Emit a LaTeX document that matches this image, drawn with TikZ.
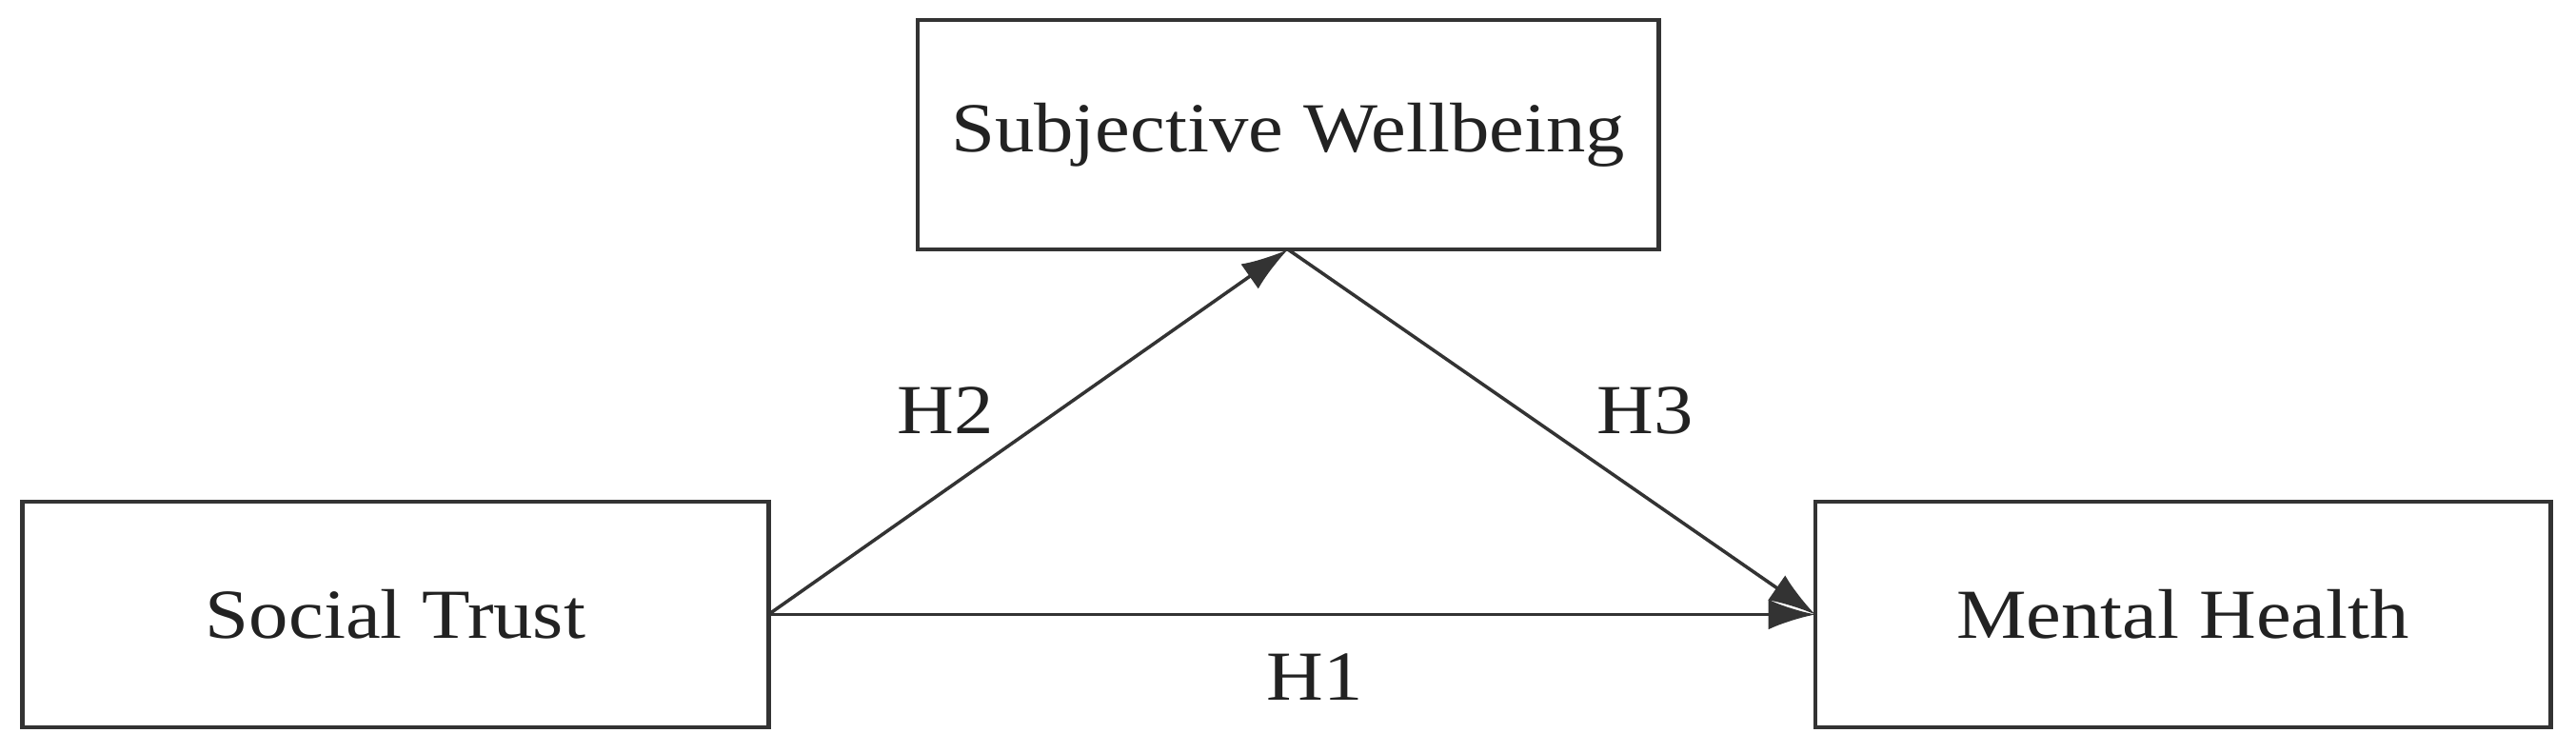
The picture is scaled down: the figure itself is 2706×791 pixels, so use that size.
\documentclass[tikz,border=0pt]{standalone}
\usepackage{fontspec}
\setmainfont{Liberation Serif}[FakeStretch=1.12]
\usetikzlibrary{arrows.meta}
\definecolor{linec}{HTML}{333333}
\definecolor{textc}{HTML}{222222}
\begin{document}
\begin{tikzpicture}[x=0.01cm,y=-0.01cm,
  box/.style={draw=linec,line width=1.3pt,fill=white,inner sep=0pt,outer sep=0pt,
    font=\fontsize{21}{24}\selectfont,text=textc},
  conn/.style={draw=linec,line width=1pt,-{Latex[length=14pt,width=9pt]}},
  lab/.style={font=\fontsize{21}{24}\selectfont,text=textc,inner sep=0pt}]
\useasboundingbox (0,0) rectangle (2706,791);
\node[box,minimum width=7.78cm,minimum height=2.41cm] (sw) at (1353,141.5) {Subjective Wellbeing};
\node[box,minimum width=7.83cm,minimum height=2.37cm] (st) at (415.5,645.5) {Social Trust};
\node[box,minimum width=7.72cm,minimum height=2.37cm] (mh) at (2293,645.5) {Mental Health};
\draw[conn] (st.east) -- (sw.south);
\draw[conn] (sw.south) -- (mh.west);
\draw[conn] (st.east) -- (mh.west);
\node[lab] (h2) at (993,431) {H2};
\node[lab] (h3) at (1728,431) {H3};
\node[lab] (h1) at (1381,711) {H1};
\end{tikzpicture}
\end{document}
